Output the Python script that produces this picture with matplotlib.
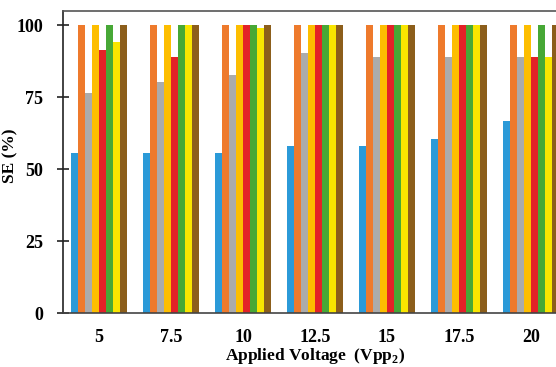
import matplotlib.pyplot as plt
import numpy as np

plt.rcParams['font.family'] = ['Liberation Serif', 'DejaVu Serif']
plt.rcParams['font.weight'] = 'bold'
plt.rcParams['mathtext.fontset'] = 'custom'
plt.rcParams['mathtext.rm'] = 'Liberation Serif:bold'
plt.rcParams['mathtext.bf'] = 'Liberation Serif:bold'

voltages = ['5', '7.5', '10', '12.5', '15', '17.5', '20']

# SE (%) per series, one value for each applied voltage
s_blue = [55.5, 55.5, 55.5, 58.0, 58.0, 60.5, 66.8]
s_orange = [100, 100, 100, 100, 100, 100, 100]
s_gray = [76.5, 80.4, 82.7, 90.4, 89.0, 89.0, 89.0]
s_gold = [100, 100, 100, 100, 100, 100, 100]
s_red = [91.5, 89.0, 100, 100, 100, 100, 89.0]
s_green = [100, 100, 100, 100, 100, 100, 100]
s_yellow = [94.1, 100, 99.0, 100, 100, 100, 89.0]
s_brown = [100, 100, 100, 100, 100, 100, 100]

series = [s_blue, s_orange, s_gray, s_gold, s_red, s_green, s_yellow, s_brown]
colors = ['#2B9AD8', '#EE7A2C', '#ABABAB', '#FDBE00', '#E32227',
          '#47A836', '#F9E500', '#8C5E1B']

W, H = 556, 367
fig = plt.figure(figsize=(W / 100, H / 100), dpi=100)
ax = fig.add_axes([63 / W, 1 - 313 / H, 504 / W, 302 / H])

x = np.arange(len(voltages))
bw = 7 / 72
n = len(series)
for i, (vals, c) in enumerate(zip(series, colors)):
    ax.bar(x + (i - (n - 1) / 2) * bw, vals, width=bw, color=c,
           edgecolor='none', linewidth=0)

ax.set_xlim(-0.5, len(voltages) - 0.5)
ax.set_ylim(0, 104.9)
ax.set_yticks([0, 25, 50, 75, 100])
ax.set_xticks(x)
ax.set_xticklabels(voltages)

ax.tick_params(axis='y', direction='inout', length=9, width=1.2,
               labelsize=13, pad=10, colors='#222222')
ax.tick_params(axis='x', length=0, labelsize=13, pad=11.5)
for lbl in ax.get_xticklabels() + ax.get_yticklabels():
    lbl.set_color('black')
    lbl.set_fontweight('bold')

ax.spines['left'].set_color('#222222')
ax.spines['left'].set_linewidth(1.2)
ax.spines['bottom'].set_color('#444444')
ax.spines['bottom'].set_linewidth(1.2)
ax.spines['top'].set_color('#555555')
ax.spines['top'].set_linewidth(1.2)
ax.spines['right'].set_visible(False)

ax.set_xlabel('Applied Voltage  (Vpp$_\\mathbf{2}$)', fontsize=12.5,
              fontweight='bold', labelpad=0)
ax.set_ylabel('SE (%)', fontsize=12.5, fontweight='bold')
ax.yaxis.set_label_coords(-0.088, 0.52)

fig.savefig('out.png', dpi=100)
